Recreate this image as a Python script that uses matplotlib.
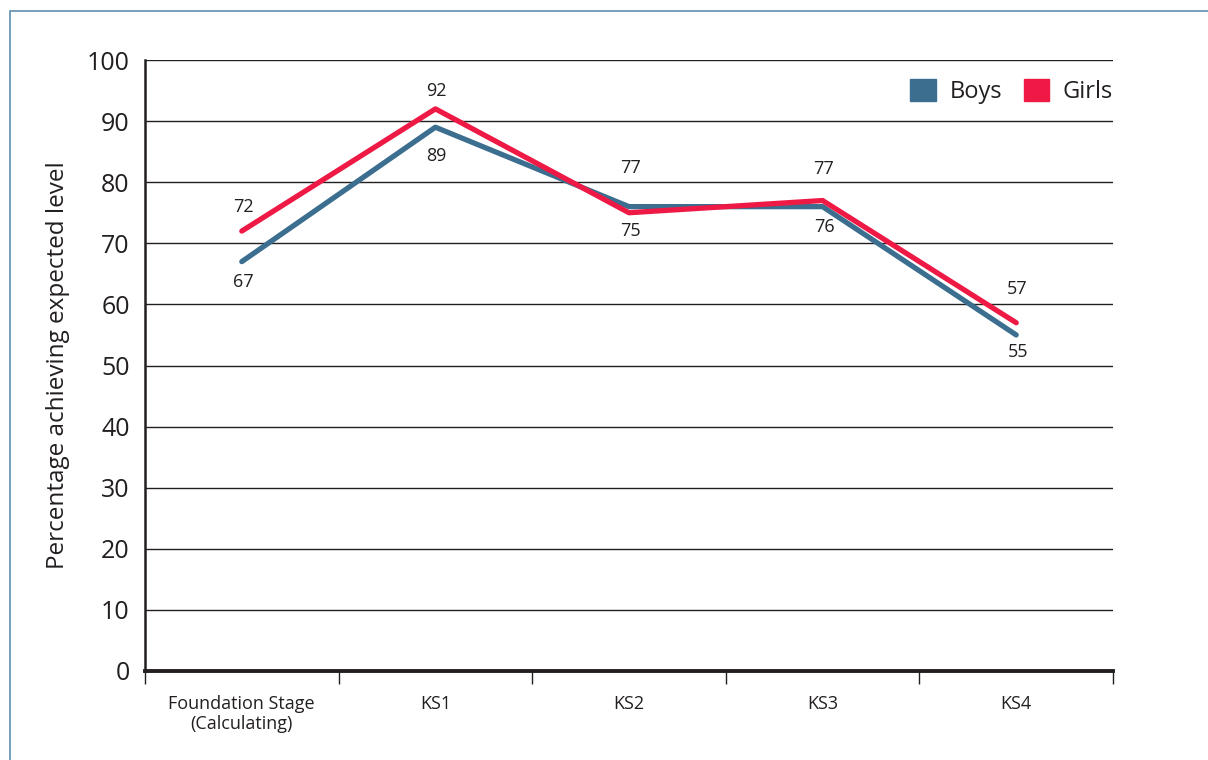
import matplotlib.pyplot as plt
from matplotlib.patches import Rectangle, Patch
import numpy as np

plt.rcParams['font.family'] = ['Open Sans', 'DejaVu Sans']

stages = ["Foundation Stage\n(Calculating)", "KS1", "KS2", "KS3", "KS4"]
boys = [67, 89, 76, 76, 55]
girls = [72, 92, 75, 77, 57]
boys_labels = ["67", "89", "77", "76", "55"]
girls_labels = ["72", "92", "75", "77", "57"]

# label offsets in points (positive = above the point)
boys_off = [-15, -21, 28, -15, -12]
girls_off = [17, 13, -13, 23, 24]

c_boys = "#3b6e8f"
c_girls = "#ee1a45"
ink = "#231f20"

fig = plt.figure(figsize=(12.08, 7.6), dpi=100)
W, H = 1208, 760
ax = fig.add_axes([145 / W, 1 - 671 / H, 968 / W, 611 / H])

# page frame
fig.patches.append(Rectangle((10 / W, -0.1), 1.2, 1 - 11 / H + 0.1,
                             transform=fig.transFigure, fill=False,
                             edgecolor="#5f8fb0", linewidth=1.2))

x = np.arange(len(stages))
ax.set_xlim(-0.5, len(stages) - 0.5)
ax.set_ylim(0, 100)
ax.set_yticks(range(0, 101, 10))
for v in range(10, 101, 10):
    ax.axhline(v, color=ink, linewidth=1.0, zorder=1)

ax.plot(x, boys, color=c_boys, linewidth=3.8, solid_capstyle="round", zorder=3, label="Boys")
ax.plot(x, girls, color=c_girls, linewidth=3.8, solid_capstyle="round", zorder=4, label="Girls")

for i in range(len(stages)):
    ax.annotate(boys_labels[i], (x[i], boys[i]), xytext=(1, boys_off[i]),
                textcoords="offset points", ha="center", va="center",
                fontsize=13, color=ink)
    ax.annotate(girls_labels[i], (x[i], girls[i]), xytext=(1, girls_off[i]),
                textcoords="offset points", ha="center", va="center",
                fontsize=13, color=ink)

ax.set_xticks(np.arange(-0.5, len(stages), 1.0))
ax.set_xticklabels([])
ax.set_xticks(x, minor=True)
ax.set_xticklabels(stages, minor=True, fontsize=13, color=ink)
ax.tick_params(axis="x", which="major", direction="out", length=9, width=1.0, color=ink)
ax.tick_params(axis="x", which="minor", length=0, pad=17)
ax.tick_params(axis="y", length=0, pad=11, labelsize=18, labelcolor=ink)

for s in ["top", "right"]:
    ax.spines[s].set_visible(False)
ax.spines["left"].set_linewidth(1.8)
ax.spines["bottom"].set_linewidth(2.8)
ax.spines["left"].set_color(ink)
ax.spines["bottom"].set_color(ink)

ax.set_ylabel("Percentage achieving expected level", fontsize=17.5, color=ink, labelpad=12)

handles = [Patch(color=c_boys, label="Boys"), Patch(color=c_girls, label="Girls")]
ax.legend(handles=handles, loc="center right", bbox_to_anchor=(1.0, 0.949), ncol=2,
          frameon=False, fontsize=17, handlelength=1.06, handleheight=1.06,
          handletextpad=0.6, columnspacing=0.9, labelcolor=ink,
          borderaxespad=0.0, borderpad=0.0)

plt.savefig("out.png", dpi=100)
